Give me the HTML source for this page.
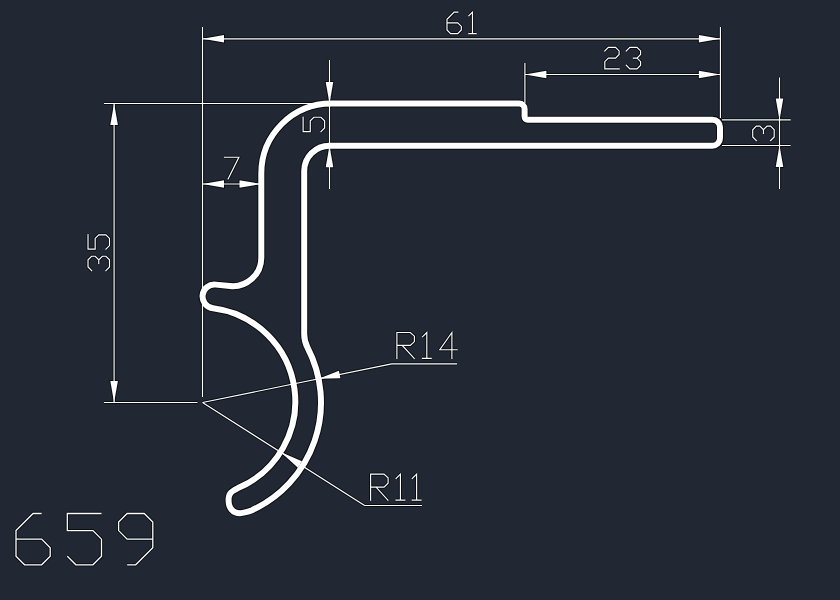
<!DOCTYPE html>
<html><head><meta charset="utf-8"><style>
html,body{margin:0;padding:0;background:#222833;}
svg{display:block;}
</style></head><body>
<svg width="840" height="600" viewBox="0 0 840 600">
<defs>
<path id="ln" d="M202.5,27 L202.5,397 M720.4,27 L720.4,118 M202.5,38.8 L720.4,38.8 M524.9,63 L524.9,103 M524.9,74.5 L720.4,74.5 M722,119.9 L790.7,119.9 M722,145.5 L790.7,145.5 M779.5,77.5 L779.5,189 M329.5,60 L329.5,189 M202.5,184.0 L261,184.0 M104,103.5 L325,103.5 M104,402.5 L197.5,402.5 M114.1,103.5 L114.1,402.5 M202.5,402.5 L391.7,363.9 M391.7,363.9 L457,363.9 M202.5,402.5 L364.6,505.5 M364.6,505.5 L422,505.5"/>
<g id="ar"><polygon points="202.50,38.80 224.00,35.00 224.00,42.60"/><polygon points="720.40,38.80 698.90,42.60 698.90,35.00"/><polygon points="524.90,74.50 546.40,70.70 546.40,78.30"/><polygon points="720.40,74.50 698.90,78.30 698.90,70.70"/><polygon points="779.50,119.90 775.70,98.40 783.30,98.40"/><polygon points="779.50,145.50 783.30,167.00 775.70,167.00"/><polygon points="329.50,103.50 325.70,82.00 333.30,82.00"/><polygon points="329.50,145.70 333.30,167.20 325.70,167.20"/><polygon points="202.50,184.00 224.00,180.20 224.00,187.80"/><polygon points="261.00,184.00 239.50,187.80 239.50,180.20"/><polygon points="114.10,103.50 117.90,125.00 110.30,125.00"/><polygon points="114.10,402.50 110.30,381.00 117.90,381.00"/><polygon points="318.61,378.81 338.91,370.79 340.43,378.24"/><polygon points="280.54,452.09 301.99,461.21 297.91,467.63"/></g>
<path id="tx" d="M457.74,12.12 L454.16,12.12 L447.00,19.28 L447.00,30.02 L450.58,33.60 L457.74,33.60 L461.32,30.02 L461.32,26.44 L457.74,22.86 L447.00,22.86 M468.90,15.70 L472.48,12.12 L472.48,33.60 M468.90,33.60 L476.06,33.60 M604.80,50.90 L608.38,47.32 L615.54,47.32 L619.12,50.90 L619.12,54.48 L615.54,58.06 L608.38,58.06 L604.80,61.64 L604.80,68.80 L619.12,68.80 M626.28,50.90 L629.86,47.32 L637.02,47.32 L640.60,50.90 L640.60,54.48 L637.02,58.06 L633.44,58.06 M637.02,58.06 L640.60,61.64 L640.60,65.22 L637.02,68.80 L629.86,68.80 L626.28,65.22 M224.60,157.27 L238.92,157.27 L228.18,178.75 M91.60,270.60 L88.02,267.02 L88.02,259.86 L91.60,256.28 L95.18,256.28 L98.76,259.86 L98.76,263.44 M98.76,259.86 L102.34,256.28 L105.92,256.28 L109.50,259.86 L109.50,267.02 L105.92,270.60 M88.02,234.80 L88.02,249.12 L95.18,249.12 L95.18,238.38 L98.76,234.80 L105.92,234.80 L109.50,238.38 L109.50,245.54 L105.92,249.12 M756.30,140.50 L752.72,136.92 L752.72,129.76 L756.30,126.18 L759.88,126.18 L763.46,129.76 L763.46,133.34 M763.46,129.76 L767.04,126.18 L770.62,126.18 L774.20,129.76 L774.20,136.92 L770.62,140.50 M303.12,117.28 L303.12,131.60 L310.28,131.60 L310.28,120.86 L313.86,117.28 L321.02,117.28 L324.60,120.86 L324.60,128.02 L321.02,131.60 M396.90,358.40 L396.90,332.48 L410.29,332.48 L414.40,336.15 L414.40,341.55 L410.29,345.44 L396.90,345.44 M402.30,345.44 L414.18,358.40 M422.50,336.80 L426.82,332.48 L426.82,358.40 M422.50,358.40 L431.14,358.40 M451.90,358.40 L451.90,332.48 L439.80,349.76 L457.08,349.76 M370.60,500.10 L370.60,474.18 L383.99,474.18 L388.10,477.85 L388.10,483.25 L383.99,487.14 L370.60,487.14 M376.00,487.14 L387.88,500.10 M396.10,478.50 L400.42,474.18 L400.42,500.10 M396.10,500.10 L404.74,500.10 M412.30,478.50 L416.62,474.18 L416.62,500.10 M412.30,500.10 L420.94,500.10"/>
<path id="bg9" d="M41.65,513.50 L33.10,513.50 L16.00,530.60 L16.00,556.25 L24.55,564.80 L41.65,564.80 L50.20,556.25 L50.20,547.70 L41.65,539.15 L16.00,539.15 M101.50,513.50 L67.30,513.50 L67.30,530.60 L92.95,530.60 L101.50,539.15 L101.50,556.25 L92.95,564.80 L75.85,564.80 L67.30,556.25 M127.15,564.80 L135.70,564.80 L152.80,547.70 L152.80,522.05 L144.25,513.50 L127.15,513.50 L118.60,522.05 L118.60,530.60 L127.15,539.15 L152.80,539.15"/>
<path id="pf" d="M331.30,103.50 L519.10,103.50 A5.5,5.5 0 0 1 524.60,109.00 L524.60,116.70 A3.0,3.0 0 0 0 527.60,119.70 L712.50,119.70 A7.5,7.5 0 0 1 720.00,127.20 L720.00,138.20 A7.5,7.5 0 0 1 712.50,145.70 L329.50,145.70 A25.30,25.30 0 0 0 304.20,171.00 L304.20,333.89 A30.0,30.0 0 0 0 307.59,347.75 A118.5,118.5 0 0 1 252.00,510.17 C250.00,511.00 248.00,511.69 246.00,512.20 C244.00,512.71 241.83,513.20 240.00,513.20 C238.17,513.20 236.42,512.82 235.00,512.20 C233.58,511.58 232.45,510.62 231.50,509.50 C230.55,508.38 229.78,506.92 229.30,505.50 C228.82,504.08 228.65,502.55 228.60,501.00 C228.55,499.45 228.60,497.62 229.00,496.20 C229.40,494.78 230.08,493.53 231.00,492.50 C231.92,491.47 233.33,490.74 234.50,490.00 C235.67,489.26 236.58,488.77 238.00,488.07 A94.07,94.07 0 0 0 213.07,308.16 A11.85,11.85 0 1 1 215.76,284.61 L229.91,286.05 A28.5,28.5 0 0 0 261.30,257.70 L261.30,173.50 A70.00,70.00 0 0 1 331.30,103.50 Z"/>
</defs>
<rect width="840" height="600" fill="#222833"/>
<g fill="none" stroke="#06090e" stroke-opacity="0.9" stroke-linejoin="round">
<use href="#ln" stroke-width="3.15"/>
<use href="#ar" fill="#06090e" fill-opacity="0.9" stroke-width="2"/>
<use href="#tx" stroke-width="3.15"/>
<use href="#bg9" stroke-width="3.3"/>
<use href="#pf" stroke-width="8.0"/>
</g>
<g fill="none" stroke="#ffffff">
<use href="#ln" stroke-width="1.15"/>
<use href="#ar" fill="#ffffff" stroke="none"/>
<use href="#tx" stroke-width="1.15" stroke-linecap="square"/>
<use href="#bg9" stroke-width="1.3"/>
<use href="#pf" stroke-width="6.0" stroke-linejoin="round"/>
</g>
</svg>
</body></html>
